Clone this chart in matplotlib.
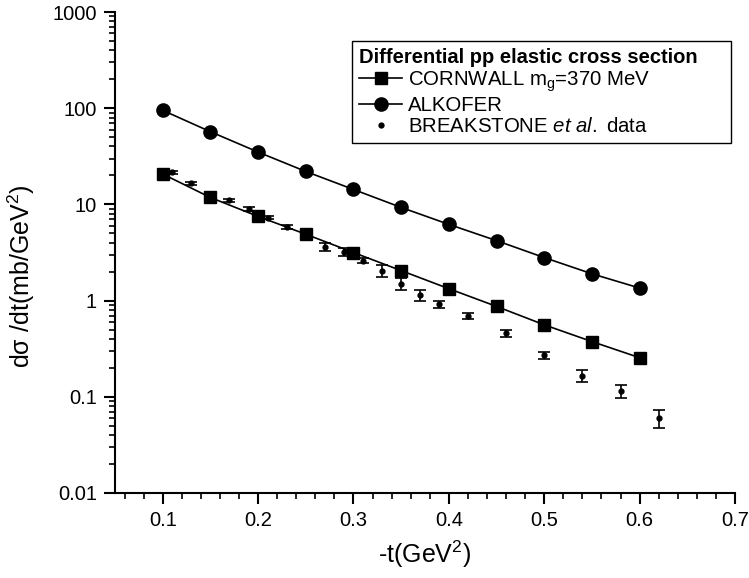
import matplotlib
matplotlib.use("Agg")
import matplotlib.pyplot as plt
from matplotlib.lines import Line2D
from matplotlib.patches import Rectangle
from matplotlib.ticker import MultipleLocator, LogLocator, NullFormatter, FixedLocator, FixedFormatter

plt.rcParams['font.family'] = ['Liberation Sans', 'DejaVu Sans']
plt.rcParams['mathtext.fontset'] = 'custom'
plt.rcParams['mathtext.rm'] = 'Liberation Sans'
plt.rcParams['mathtext.it'] = 'Liberation Sans:italic'
plt.rcParams['mathtext.bf'] = 'Liberation Sans:bold'

# Model curves
t_model = [0.10, 0.15, 0.20, 0.25, 0.30, 0.35, 0.40, 0.45, 0.50, 0.55, 0.60]
cornwall = [20.7, 11.8, 7.5, 4.9, 3.16, 2.05, 1.33, 0.87, 0.56, 0.375, 0.255]
alkofer = [95.0, 57.0, 35.0, 22.0, 14.3, 9.3, 6.2, 4.2, 2.8, 1.9, 1.35]

# Experimental data
t_data = [0.11, 0.13, 0.17, 0.19, 0.21, 0.23, 0.27, 0.29, 0.31, 0.33,
          0.35, 0.37, 0.39, 0.42, 0.46, 0.50, 0.54, 0.58, 0.62]
data = [21.5, 16.5, 11.0, 8.9, 7.3, 5.8, 3.65, 3.2, 2.6, 2.05,
        1.5, 1.13, 0.92, 0.70, 0.455, 0.27, 0.166, 0.115, 0.060]
data_err = [0.7, 0.6, 0.4, 0.4, 0.3, 0.3, 0.35, 0.3, 0.15, 0.3,
            0.22, 0.15, 0.08, 0.05, 0.035, 0.02, 0.024, 0.018, 0.013]

x_ticks = [0.1, 0.2, 0.3, 0.4, 0.5, 0.6, 0.7]
x_ticklabels = ['0.1', '0.2', '0.3', '0.4', '0.5', '0.6', '0.7']
y_ticks = [0.01, 0.1, 1, 10, 100, 1000]
y_ticklabels = ['0.01', '0.1', '1', '10', '100', '1000']

W, H = 749, 578
L, R, T, B = 115, 735, 12, 493
fig = plt.figure(figsize=(W/100, H/100), dpi=100)
ax = fig.add_axes([L/W, 1 - B/H, (R-L)/W, (B-T)/H])

l1, = ax.plot(t_model, cornwall, '-', color='black', lw=1.2, marker='s', ms=8.5)
l2, = ax.plot(t_model, alkofer, '-', color='black', lw=1.2, marker='o', ms=9.5)
ax.errorbar(t_data, data, yerr=data_err, fmt='o', color='black', ms=3.5,
            elinewidth=1.2, capsize=4, capthick=1.2)

ax.set_yscale('log')
ax.set_xlim(0.05, 0.7)
ax.set_ylim(0.01, 1000)

ax.xaxis.set_major_locator(FixedLocator(x_ticks))
ax.xaxis.set_major_formatter(FixedFormatter(x_ticklabels))
ax.xaxis.set_minor_locator(MultipleLocator(0.02))
ax.yaxis.set_major_locator(FixedLocator(y_ticks))
ax.yaxis.set_major_formatter(FixedFormatter(y_ticklabels))
ax.yaxis.set_minor_locator(LogLocator(base=10, subs=range(2, 10), numticks=20))
ax.yaxis.set_minor_formatter(NullFormatter())

for s in ['top', 'right']:
    ax.spines[s].set_visible(False)
for s in ['left', 'bottom']:
    ax.spines[s].set_linewidth(1.5)
ax.tick_params(which='major', direction='out', length=8, width=1.5, labelsize=14.5, pad=5)
ax.tick_params(which='minor', direction='out', length=4.5, width=1.2)

ax.set_xlabel('-t(GeV$^2$)', fontsize=18, labelpad=6)
ax.set_ylabel('d\u03c3 /dt(mb/GeV$^2$)', fontsize=18)
ax.yaxis.set_label_coords(-0.125, 0.45)

h3 = Line2D([], [], ls='none', marker='o', color='black', ms=3.5)
handles = [l1, l2, h3]
labels = ['CORNWALL m$_{\\rm g}$=370 MeV', 'ALKOFER', 'BREAKSTONE $\\it{et\\ al.}$ data']
leg = ax.legend(handles, labels, loc='upper left',
                bbox_to_anchor=((352-L)/(R-L), 1 - (41-T)/(B-T)),
                title='Differential pp elastic cross section',
                title_fontproperties={'weight': 'bold', 'size': 14.5},
                fontsize=14.7, frameon=False, handlelength=2.1,
                handletextpad=0.3, borderpad=0.35, labelspacing=0.1,
                alignment='left', borderaxespad=0.0)

fig.canvas.draw()
bb = leg.get_window_extent()
x_right = 731
rect = Rectangle((bb.x0/W, bb.y0/H), (x_right - bb.x0)/W, bb.height/H,
                 transform=fig.transFigure, fill=False, edgecolor='black', lw=1.0)
fig.add_artist(rect)

fig.savefig('out.png', dpi=100)
